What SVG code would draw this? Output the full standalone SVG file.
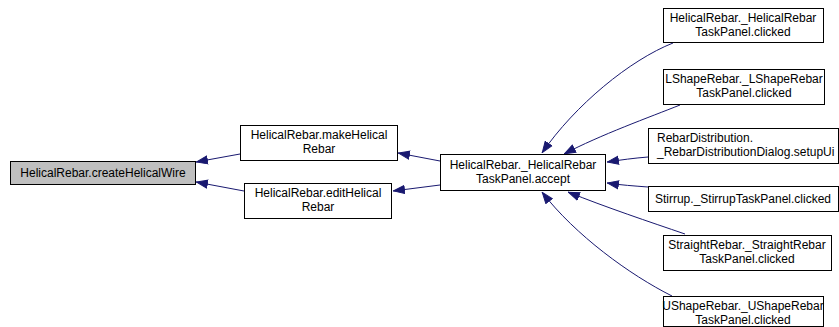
<svg xmlns="http://www.w3.org/2000/svg" width="839" height="327" viewBox="0 0 839 327">
  <style>
    .node rect { fill: #ffffff; stroke: #000000; stroke-width: 1; }
    .node.root rect { fill: #bfbfbf; }
    .node text { font-family: "Liberation Sans", Arial, sans-serif; font-size: 12px; fill: #000000; text-anchor: middle; }
    .node text.left { text-anchor: start; }
    .edges path { fill: none; stroke: #191970; stroke-width: 1; }
  </style>
  <defs>
    <marker id="arrow" viewBox="0 0 12 10" refX="12" refY="5" markerWidth="12" markerHeight="10" markerUnits="userSpaceOnUse" orient="auto">
      <path d="M0.5,1 L11.5,5 L0.5,9 Z" fill="#191970" stroke="#191970" stroke-width="1"/>
    </marker>
  </defs>

  <g class="edges">
    <path d="M240,154 L196,162" marker-end="url(#arrow)"/>
    <path d="M244,191 L196,182" marker-end="url(#arrow)"/>
    <path d="M440,161 L398,153" marker-end="url(#arrow)"/>
    <path d="M440,185 L393,191" marker-end="url(#arrow)"/>
    <path d="M673,43 C630,60 575,105 542,153" marker-end="url(#arrow)"/>
    <path d="M680,105 C650,117 600,135 564,154" marker-end="url(#arrow)"/>
    <path d="M648,157 C635,158 620,160 607,162" marker-end="url(#arrow)"/>
    <path d="M648,187 C635,186 620,185 607,183" marker-end="url(#arrow)"/>
    <path d="M685,234 C650,222 605,207 568,192" marker-end="url(#arrow)"/>
    <path d="M672,296 C630,275 575,235 542,192" marker-end="url(#arrow)"/>
  </g>

  <g id="node-createHelicalWire" class="node root">
    <rect x="10.5" y="161.5" width="185" height="23"/>
    <text x="103" y="177">HelicalRebar.createHelicalWire</text>
  </g>
  <g id="node-makeHelicalRebar" class="node">
    <rect x="240.5" y="125.5" width="157" height="35"/>
    <text x="319" y="139">HelicalRebar.makeHelical</text>
    <text x="319" y="153">Rebar</text>
  </g>
  <g id="node-editHelicalRebar" class="node">
    <rect x="244.5" y="183.5" width="147" height="35"/>
    <text x="318" y="197">HelicalRebar.editHelical</text>
    <text x="318" y="211">Rebar</text>
  </g>
  <g id="node-accept" class="node">
    <rect x="440.5" y="154.5" width="165" height="36"/>
    <text x="523" y="169">HelicalRebar._HelicalRebar</text>
    <text x="523" y="183">TaskPanel.accept</text>
  </g>
  <g id="node-helicalClicked" class="node">
    <rect x="663.5" y="8.5" width="160" height="34"/>
    <text x="743" y="22">HelicalRebar._HelicalRebar</text>
    <text x="743" y="36">TaskPanel.clicked</text>
  </g>
  <g id="node-lshapeClicked" class="node">
    <rect x="663.5" y="69.5" width="161" height="35"/>
    <text x="744" y="83">LShapeRebar._LShapeRebar</text>
    <text x="744" y="97">TaskPanel.clicked</text>
  </g>
  <g id="node-distributionSetupUi" class="node">
    <rect x="648.5" y="128.5" width="190" height="35"/>
    <text class="left" x="657" y="142">RebarDistribution.</text>
    <text class="left" x="657" y="156">_RebarDistributionDialog.setupUi</text>
  </g>
  <g id="node-stirrupClicked" class="node">
    <rect x="648.5" y="186.5" width="190" height="25"/>
    <text x="743" y="203">Stirrup._StirrupTaskPanel.clicked</text>
  </g>
  <g id="node-straightClicked" class="node">
    <rect x="663.5" y="235.5" width="168" height="35"/>
    <text x="747" y="249">StraightRebar._StraightRebar</text>
    <text x="747" y="263">TaskPanel.clicked</text>
  </g>
  <g id="node-ushapeClicked" class="node">
    <rect x="663.5" y="296.5" width="160" height="30"/>
    <text x="743" y="310">UShapeRebar._UShapeRebar</text>
    <text x="743" y="324">TaskPanel.clicked</text>
  </g>
</svg>
